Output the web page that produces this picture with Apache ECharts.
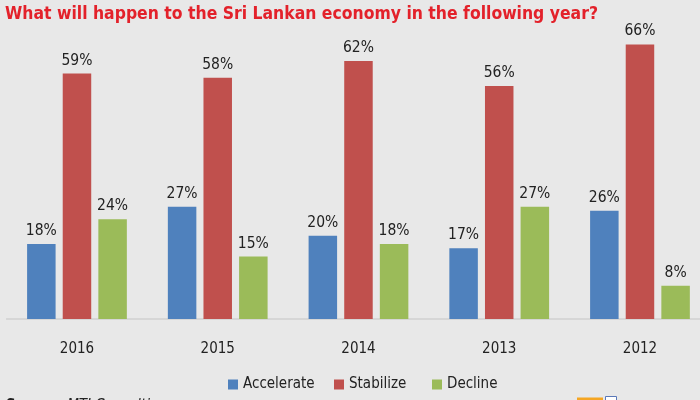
<!DOCTYPE html>
<html>
<head>
<meta charset="utf-8">
<script src="https://cdn.jsdelivr.net/npm/echarts@6/dist/echarts.min.js"></script>
<style>
html,body{margin:0;padding:0;background:#e8e8e8;}
#c{width:700px;height:400px;}
</style>
</head>
<body>
<div id="c"></div>
<script>
var categories = ['2016', '2015', '2014', '2013', '2012'];
var accelerate = [18, 27, 20, 17, 26];
var stabilize = [59, 58, 62, 56, 66];
var decline = [24, 15, 18, 27, 8];
var seriesNames = ['Accelerate', 'Stabilize', 'Decline'];
var titleText = 'What will happen to the Sri Lankan economy in the following year?';
var sourceLabel = 'Source:';
var sourceName = 'MTI Consulting';

var font = '"DejaVu Sans Condensed", "Liberation Sans", sans-serif';
var titleFont = 'bold 18px ' + font;
var cv = document.createElement('canvas').getContext('2d');
cv.font = titleFont;
var titleScale = 593 / cv.measureText(titleText).width;

var chart = echarts.init(document.getElementById('c'));
function mk(name, data, color) {
  return {
    name: name, type: 'bar', data: data, barWidth: 28.5, barGap: '25%',
    itemStyle: { color: color },
    label: { show: true, position: 'top', distance: 5, formatter: '{c}%',
      color: '#222', fontSize: 15.5, fontFamily: font }
  };
}
function lg(name, left) {
  return {
    data: [name], top: 377, left: left, itemWidth: 10, itemHeight: 10, itemGap: 0,
    icon: 'rect', padding: 0,
    textStyle: { color: '#222', fontSize: 15, fontFamily: font }
  };
}
chart.setOption({
  backgroundColor: '#e8e8e8',
  animation: false,
  legend: [lg(seriesNames[0], 228), lg(seriesNames[1], 334), lg(seriesNames[2], 432)],
  grid: { left: 6.6, width: 703.75, top: 27.8, bottom: 81, containLabel: false, outerBoundsMode: 'none' },
  xAxis: {
    type: 'category', data: categories,
    axisLine: { lineStyle: { color: '#cfcfcf', width: 1.5 } },
    axisTick: { show: false },
    axisLabel: { color: '#222', fontSize: 15, fontFamily: font, margin: 23 }
  },
  yAxis: { type: 'value', min: 0, max: 70, show: false, splitLine: { show: false } },
  series: [
    mk(seriesNames[0], accelerate, '#4f81bd'),
    mk(seriesNames[1], stabilize, '#c0504d'),
    mk(seriesNames[2], decline, '#9bbb59')
  ],
  graphic: [
    { type: 'text', x: 5, y: 5, scaleX: titleScale,
      style: { text: titleText, fill: '#e3212a', font: titleFont } },
    { type: 'text', x: 6, y: 399,
      style: { text: '{a|' + sourceLabel + '} {b|' + sourceName + '}', fill: '#222',
        rich: { a: { fontWeight: 'bold', fontSize: 15, fontFamily: font, fill: '#222' },
                b: { fontStyle: 'italic', fontSize: 15, fontFamily: font, fill: '#222' } } } },
    { type: 'rect', x: 577, y: 397.5, shape: { width: 26, height: 8 }, style: { fill: '#f5a623' } },
    { type: 'rect', x: 605.5, y: 396.5, shape: { width: 11, height: 9 }, style: { fill: '#fff', stroke: '#5a78b8' } }
  ]
});
</script>
</body>
</html>
